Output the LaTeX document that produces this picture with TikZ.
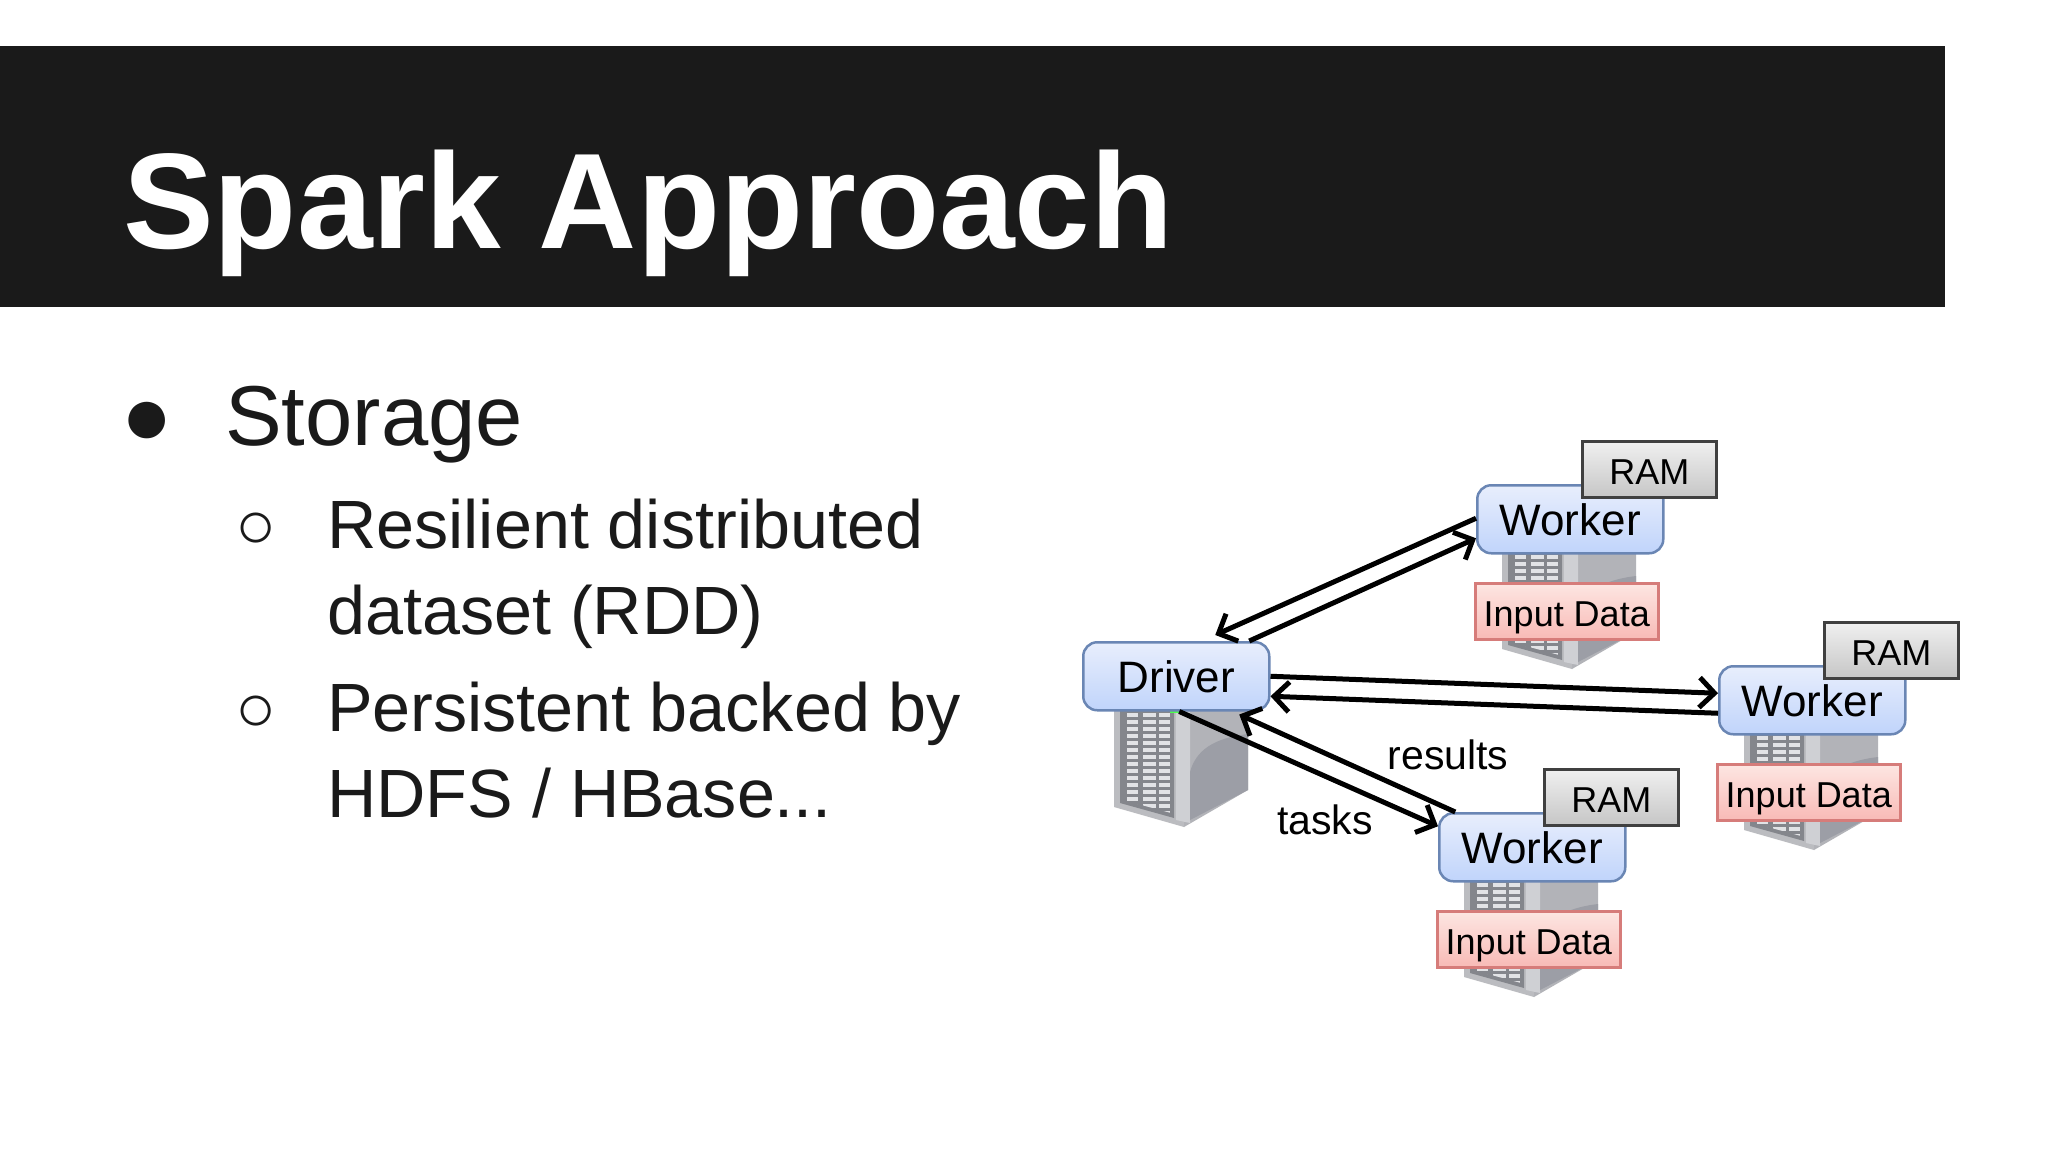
\documentclass[tikz,border=0pt]{standalone}
\usepackage{fontspec}
\setmainfont{Liberation Sans}
\usetikzlibrary{arrows.meta,shadings}
\definecolor{ink}{HTML}{1A1A1A}
\definecolor{bluetop}{HTML}{E8EEFC}
\definecolor{bluemid}{HTML}{D9E5FC}
\definecolor{bluebot}{HTML}{C0D4FB}
\definecolor{blueline}{HTML}{6A86B4}
\definecolor{redtop}{HTML}{FDE6E2}
\definecolor{redbot}{HTML}{F8BAB6}
\definecolor{redline}{HTML}{D67C7A}
\definecolor{ramtop}{HTML}{F0F0F0}
\definecolor{rambot}{HTML}{C6C6C6}
\definecolor{srvfront}{HTML}{BBBCC0}
\definecolor{srvpanel}{HTML}{84868C}
\definecolor{srvcell}{HTML}{E2E3E6}
\definecolor{srvstrip}{HTML}{CFD0D4}
\definecolor{srvside}{HTML}{B2B3B8}
\definecolor{srvwedge}{HTML}{9C9EA6}
\tikzset{
  x=1pt,y=-1pt,
  boxtext/.style={inner sep=0pt,font=\fontsize{36}{36}\selectfont,text=black,anchor=north west},
  bluebox/.style={boxtext,draw=blueline,line width=2.5pt,rounded corners=14pt,minimum width=186pt,minimum height=68pt,
    top color=bluetop,middle color=bluemid,bottom color=bluebot,font=\fontsize{44}{44}\selectfont},
  rambox/.style={boxtext,draw=black!75,line width=2.5pt,minimum width=134pt,minimum height=56pt,top color=ramtop,bottom color=rambot},
  inputbox/.style={boxtext,draw=redline,line width=2.5pt,minimum width=183pt,minimum height=56pt,top color=redtop,bottom color=redbot},
  slidetitle/.style={inner sep=0pt,anchor=base west,text=white,font=\fontsize{136}{136}\selectfont\bfseries},
  level one/.style={inner sep=0pt,anchor=base west,text=ink,font=\fontsize{85}{85}\selectfont},
  level two/.style={inner sep=0pt,anchor=base west,text=ink,font=\fontsize{68.3}{68.3}\selectfont},
  flowlabel/.style={inner sep=0pt,anchor=center,text=black,font=\fontsize{41}{41}\selectfont},
  flow/.style={draw=black,line width=5pt,-{Straight Barb[length=15pt,width=30pt,line width=5pt]}},
}
\newcommand{\serverat}[2]{%
  \begin{scope}[shift={(#1,#2)}]
    \fill[srvfront] (0,0) -- (70,0) -- (70,117) -- (0,97) -- cycle;
    \fill[srvside] (70,0) -- (134,0) -- (134,80) -- (70,117) -- cycle;
    \fill[srvstrip] (62,0) -- (76,0) -- (76,113) -- (62,110) -- cycle;
    \fill[srvwedge] (76,110) -- (76,62) .. controls (82,40) and (100,28) .. (134,24) -- (134,80) -- cycle;
    \fill[srvpanel] (6,0) -- (60,0) -- (60,108) -- (6,93) -- cycle;
    \begin{scope}
      \clip (9,0) -- (57,0) -- (57,103) -- (9,90) -- cycle;
      \foreach \c/\w in {13/11,29/13,45/11} {
        \foreach \r in {3,10,...,108} {
          \fill[srvcell] (\c,\r) rectangle ++(\w,4);
        }
      }
    \end{scope}
  \end{scope}}
\newcommand{\lowered}[2]{\raisebox{-#1pt}[0pt][0pt]{#2}}
\newcommand{\workerat}[3]{%
  \serverat{\numexpr#2+25\relax}{\numexpr#3+68\relax}
  \node[bluebox] (w#1) at (#2-1,#3) {\lowered{16.5}{Worker}};
  \node[rambox] (r#1) at (#2+104,#3-44) {\lowered{15}{RAM}};
  \node[inputbox] (i#1) at (#2-3,#3+98) {\lowered{15}{Input Data}};}
\begin{document}
\begin{tikzpicture}
  \useasboundingbox (0,0) rectangle (2048,1152);
  \fill[white] (0,0) rectangle (2048,1152);
  \fill[ink] (0,46) rectangle (1945,307);
  \node[slidetitle] (title) at (123,248) {Spark Approach};
  \node[level one] (b1) at (121,444) {●};
  \node[level one] (l1) at (225,445) {Storage};
  \node[level two] (b2) at (235,548) {○};
  \node[level two] (l2) at (327,548) {Resilient distributed};
  \node[level two] (l3) at (327,634) {dataset (RDD)};
  \node[level two] (b3) at (235,731) {○};
  \node[level two] (l4) at (327,731) {Persistent backed by};
  \node[level two] (l5) at (327,817) {HDFS / HBase...};

  \serverat{1114}{710}
  \fill[green!70!white] (1170,710) rectangle (1182,713);
  \node[bluebox] (driver) at (1082,641) {\lowered{16.5}{Driver}};
  \workerat{1}{1477}{484}
  \workerat{2}{1719}{665}
  \workerat{3}{1439}{812}

  \draw[flow] ([yshift=1pt]w1.west) -- ([xshift=39pt,yshift=6pt]driver.north);
  \draw[flow] ([xshift=73pt]driver.north) -- ([yshift=-19pt]w1.west);
  \draw[flow] (driver.east) -- ([yshift=7pt]w2.west);
  \draw[flow] ([yshift=-13pt]w2.west) -- ([yshift=-20pt]driver.east);
  \draw[flow] ([xshift=3pt]driver.south) -- ([yshift=21pt]w3.west);
  \draw[flow] ([xshift=-77pt]w3.north) -- ([xshift=63pt,yshift=-3pt]driver.south);

  \node[flowlabel] (results) at (1448,755) {results};
  \node[flowlabel] (tasks) at (1325,820) {tasks};
\end{tikzpicture}
\end{document}
